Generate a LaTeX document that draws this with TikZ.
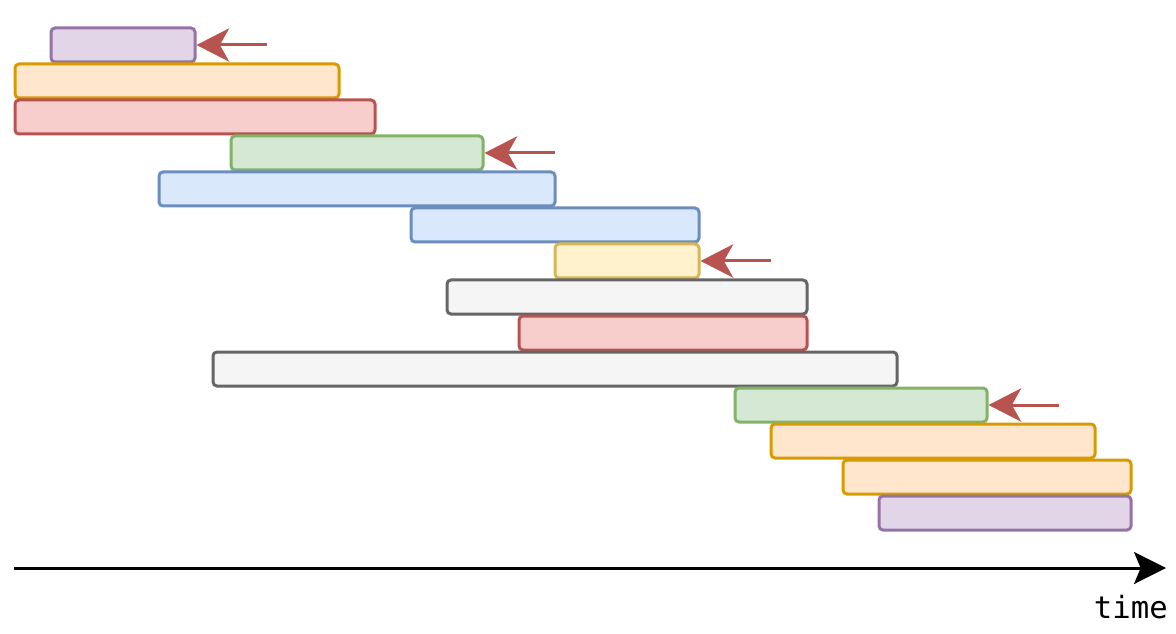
\documentclass[tikz,border=0pt]{standalone}
\usepackage{fontspec}
\setmonofont{DejaVu Sans Mono}
\usetikzlibrary{arrows.meta}
\definecolor{purF}{HTML}{E1D5E7}\definecolor{purD}{HTML}{9673A6}
\definecolor{oraF}{HTML}{FFE6CC}\definecolor{oraD}{HTML}{D79B00}
\definecolor{redF}{HTML}{F8CECC}\definecolor{redD}{HTML}{B85450}
\definecolor{greF}{HTML}{D5E8D4}\definecolor{greD}{HTML}{82B366}
\definecolor{bluF}{HTML}{DAE8FC}\definecolor{bluD}{HTML}{6C8EBF}
\definecolor{yelF}{HTML}{FFF2CC}\definecolor{yelD}{HTML}{D6B656}
\definecolor{grayF}{HTML}{F5F5F5}\definecolor{grayD}{HTML}{666666}
\tikzset{
  bar/.style={draw, rectangle, rounded corners=3pt, line width=2.25pt, inner sep=0pt,
    minimum height=25.5pt, minimum width=#1*0.75pt},
  purbar/.style={bar=#1, fill=purF, draw=purD},
  orabar/.style={bar=#1, fill=oraF, draw=oraD},
  redbar/.style={bar=#1, fill=redF, draw=redD},
  grebar/.style={bar=#1, fill=greF, draw=greD},
  blubar/.style={bar=#1, fill=bluF, draw=bluD},
  yelbar/.style={bar=#1, fill=yelF, draw=yelD},
  graybar/.style={bar=#1, fill=grayF, draw=grayD},
  marker/.style={draw=redD, line width=2.25pt, -{Stealth[length=24.5pt, width=25pt, inset=7pt]}},
  axis/.style={draw=black, line width=2.25pt, -{Stealth[length=24pt, width=24pt, inset=5pt]}},
  lbl/.style={font=\ttfamily\fontsize{23}{23}\selectfont, inner sep=0pt}
}
\begin{document}
\begin{tikzpicture}[x=0.75pt, y=-0.75pt]
\useasboundingbox (0,0) rectangle (1176,634);
% bars: center x = left + w/2, row centers 45+36k
\node[purbar=144]  (b1)  at (123,45)  {};
\node[orabar=324]  (b2)  at (177,81)  {};
\node[redbar=360]  (b3)  at (195,117) {};
\node[grebar=252]  (b4)  at (357,153) {};
\node[blubar=396]  (b5)  at (357,189) {};
\node[blubar=288]  (b6)  at (555,225) {};
\node[yelbar=144]  (b7)  at (627,261) {};
\node[graybar=360] (b8)  at (627,297) {};
\node[redbar=288]  (b9)  at (663,333) {};
\node[graybar=684] (b10) at (555,369) {};
\node[grebar=252]  (b11) at (861,405) {};
\node[orabar=324]  (b12) at (933,441) {};
\node[orabar=288]  (b13) at (987,477) {};
\node[purbar=252]  (b14) at (1005,513) {};
% markers
\coordinate (m1) at (267,45);
\coordinate (m2) at (555,153);
\coordinate (m3) at (771,261);
\coordinate (m4) at (1059,405);
\draw[marker] (m1) -- (b1.east);
\draw[marker] (m2) -- (b4.east);
\draw[marker] (m3) -- (b7.east);
\draw[marker] (m4) -- (b11.east);
% time axis
\coordinate (t0) at (14,568);
\coordinate (t1) at (1166,568);
\draw[axis] (t0) -- (t1);
\node[lbl, anchor=base east] (time) at (1168,618) {time};
\end{tikzpicture}
\end{document}
